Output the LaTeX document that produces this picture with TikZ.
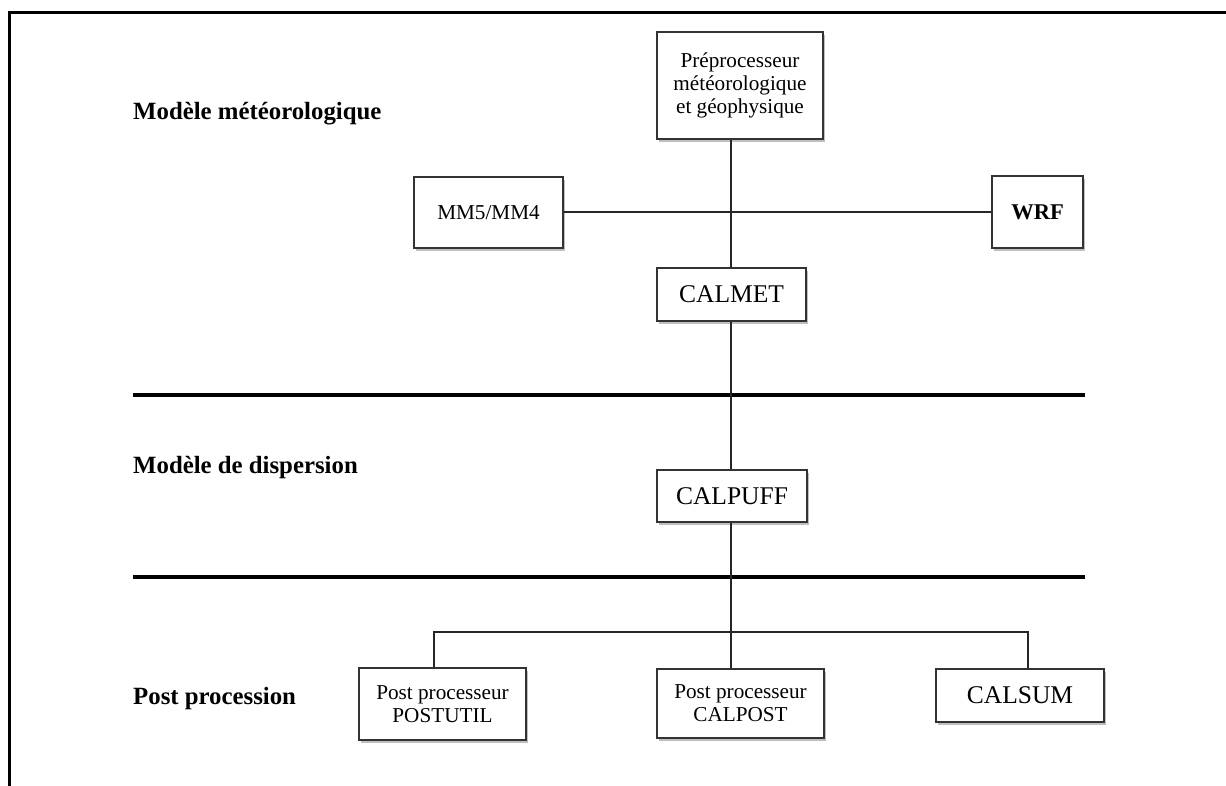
\documentclass[tikz,border=0pt]{standalone}
\usepackage{fontspec}
\setmainfont{Liberation Serif}
\usetikzlibrary{shadows}
\begin{document}
\begin{tikzpicture}[x=1pt,y=-1pt,
  box/.style={draw=black!80, line width=2pt, fill=white, inner sep=0pt, align=center,
    drop shadow={shadow xshift=2pt, shadow yshift=-3pt, opacity=0.25, fill=black}},
  bigtxt/.style={font=\fontsize{25.5}{28}\selectfont},
  smalltxt/.style={font=\fontsize{21.2}{23}\selectfont},
  sectlabel/.style={anchor=west, inner sep=0pt, font=\fontsize{24.8}{28}\selectfont\bfseries},
  conn/.style={draw=black!85, line width=2pt},
  sep/.style={draw=black, line width=4.5pt},
  frame/.style={draw=black, line width=3pt}]
\useasboundingbox (0,0) rectangle (1226,786);
% page frame (top and left)
\coordinate (fr1) at (1226,13);
\coordinate (fr2) at (9,13);
\coordinate (fr3) at (9,786);
\draw[frame] (fr1) -- (fr2) -- (fr3);

% section labels
\node[sectlabel] (lmet) at (133,114) {Modèle météorologique};
\node[sectlabel] (ldisp) at (133,468) {Modèle de dispersion};
\node[sectlabel] (lpost) at (133,699) {Post procession};

% separators
\coordinate (s1a) at (133,395); \coordinate (s1b) at (1085,395);
\coordinate (s2a) at (133,577); \coordinate (s2b) at (1085,577);
\draw[sep] (s1a) -- (s1b);
\draw[sep] (s2a) -- (s2b);

% spine and branch coordinates
\coordinate (spine) at (731,0);
\coordinate (bl) at (434,632);
\coordinate (brr) at (1028,632);

% boxes
\node[box, smalltxt, minimum width=166pt, minimum height=107pt] (prep) at (740,85.5)
  {Préprocesseur\\météorologique\\et géophysique};
\node[box, smalltxt, minimum width=149pt, minimum height=71pt] (mm5) at (488.5,212.5) {MM5/MM4};
\node[box, font=\fontsize{22.5}{25}\selectfont\bfseries, minimum width=91pt, minimum height=72pt] (wrf) at (1037.5,212.5) {WRF};
\node[box, bigtxt, minimum width=149pt, minimum height=53pt] (calmet) at (731.5,294.5) {CALMET};
\node[box, bigtxt, minimum width=150pt, minimum height=52pt] (calpuff) at (732,496) {CALPUFF};
\node[box, smalltxt, minimum width=167pt, minimum height=72pt] (postutil) at (442.5,704)
  {Post processeur\\POSTUTIL};
\node[box, smalltxt, minimum width=167pt, minimum height=69pt] (calpost) at (740.5,703.5)
  {Post processeur\\CALPOST};
\node[box, bigtxt, minimum width=168pt, minimum height=53pt] (calsum) at (1020,695.5) {CALSUM};

% connectors
\draw[conn] (prep.south -| spine) -- (calmet.north -| spine);
\draw[conn] (mm5.east) -- (wrf.west);
\draw[conn] (calmet.south -| spine) -- (calpuff.north -| spine);
\draw[conn] (calpuff.south -| spine) -- (calpost.north -| spine);
\draw[conn] (postutil.north -| bl) -- (bl) -- (brr) -- (calsum.north -| brr);
\end{tikzpicture}
\end{document}
